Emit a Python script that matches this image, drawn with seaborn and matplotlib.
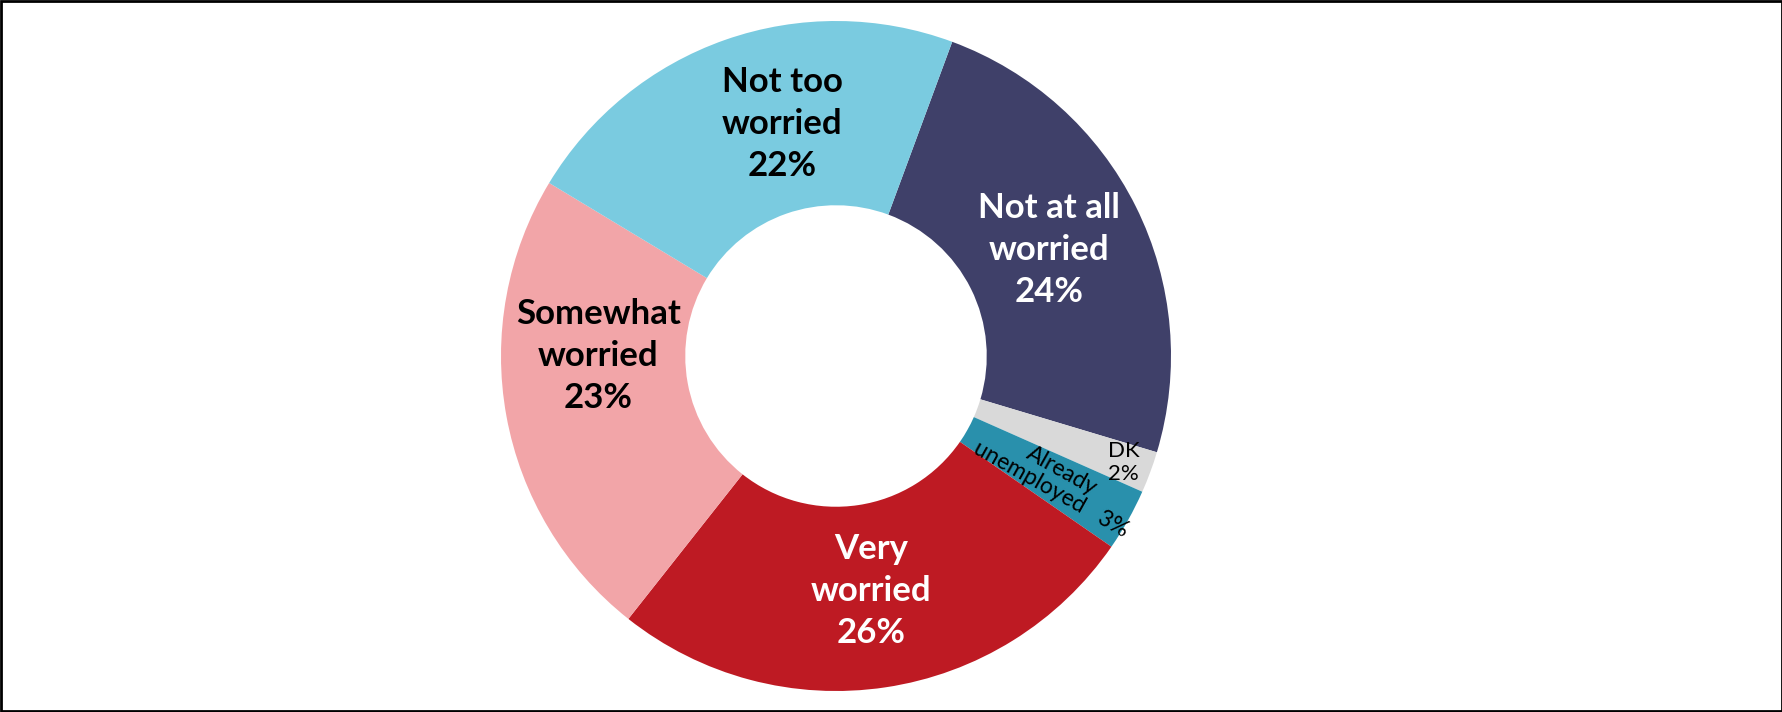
import numpy as np
import matplotlib
matplotlib.use("Agg")
import matplotlib.pyplot as plt
import seaborn as sns
from matplotlib.patches import Rectangle

sns.set_theme(style="white")
plt.rcParams['font.family'] = ['Lato', 'DejaVu Sans']

categories = ["Not at all\nworried", "DK", "Already\nunemployed", "Very\nworried",
              "Somewhat\nworried", "Not too\nworried"]
values = [24, 2, 3, 26, 23, 22]
colors = sns.color_palette(["#3F4069", "#D9D9D9", "#2990AC", "#BE1A23", "#F2A5A8", "#7ACBE0"])
text_colors = ["white", "black", "black", "white", "black", "black"]

W, H = 1783, 712
fig = plt.figure(figsize=(W / 100, H / 100), dpi=100)
cx, cy, R = 836, 356, 335
ax = fig.add_axes([(cx - R) / W, (cy - R) / H, 2 * R / W, 2 * R / H])

wedges, _ = ax.pie(values, colors=colors, startangle=69.7, counterclock=False,
                   radius=1.0, wedgeprops=dict(width=0.55, linewidth=0))
ax.set_xlim(-1, 1)
ax.set_ylim(-1, 1)
ax.set_aspect("equal")
ax.axis("off")

for i, (w, lab, v) in enumerate(zip(wedges, categories, values)):
    mid = np.deg2rad((w.theta1 + w.theta2) / 2)
    if lab == "DK":
        r = 0.915
        ax.text(r * np.cos(mid), r * np.sin(mid), f"DK\n{v}%", ha="center", va="center",
                fontsize=16, color="black", linespacing=1.15)
    elif lab.startswith("Already"):
        r = 0.755
        ang = np.rad2deg(mid)
        ax.text(r * np.cos(mid), r * np.sin(mid), f"Already\nunemployed   {v}%", ha="center",
                va="center", fontsize=16.5, color="black", rotation=ang, rotation_mode="anchor",
                linespacing=1.0, multialignment="center")
    else:
        r = 0.71
        if lab.startswith("Somewhat"):
            mid = np.deg2rad(180)
        if lab.startswith("Not too"):
            mid = np.deg2rad(103)
        ax.text(r * np.cos(mid), r * np.sin(mid), f"{lab}\n{v}%", ha="center", va="center",
                fontsize=25, fontweight="bold", color=text_colors[i], linespacing=1.38)

fig.add_artist(Rectangle((0.0008, 0.002), 0.9984, 0.996, transform=fig.transFigure,
                         fill=False, edgecolor="black", linewidth=2))
fig.savefig("out.png", dpi=100)
